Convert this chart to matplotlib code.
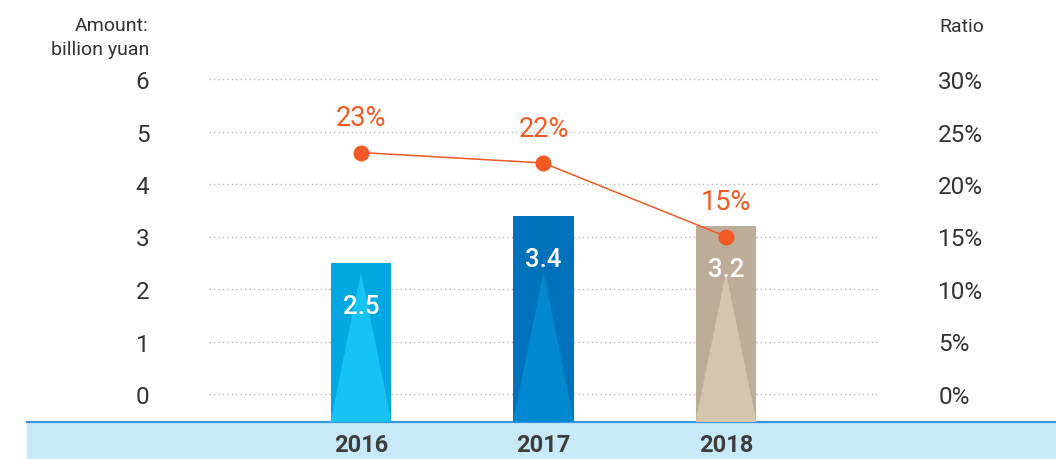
import matplotlib
matplotlib.use("Agg")
import matplotlib.pyplot as plt
from matplotlib.patches import Rectangle, Polygon
from matplotlib.lines import Line2D

plt.rcParams['font.family'] = ['Roboto', 'DejaVu Sans']

years = ["2016", "2017", "2018"]
amounts = [2.5, 3.4, 3.2]          # billion yuan
ratios = [23, 22, 15]              # %
amount_ticks = [0, 1, 2, 3, 4, 5, 6]
ratio_ticks = [0, 5, 10, 15, 20, 25, 30]

bar_colors = ["#00A8E2", "#0071BB", "#BDAC97"]
tri_colors = ["#15C3F4", "#0089D1", "#D5C5AF"]
line_color = "#F15A24"
text_color = "#333333"

W, H = 1056, 460
fig = plt.figure(figsize=(W / 100, H / 100), dpi=100)

# category band along the bottom
fig.patches.append(Rectangle((27 / W, 0), 1 - 27 / W, 37 / H,
                             transform=fig.transFigure, color="#C8E9F8",
                             zorder=-2))
fig.lines.append(Line2D([27 / W, 1], [37 / H, 37 / H], transform=fig.transFigure,
                        color="#3A98D8", lw=1.6, zorder=-1))

# plot area: baseline sits on top of the blue band
ax = fig.add_axes([209 / W, 37 / H, (880 - 209) / W, 423 / H])
ax.patch.set_visible(False)
ymin, ymax = -28 / 52.5, 395 / 52.5
ax.set_ylim(ymin, ymax)
ax.set_xlim(-0.833, 2.844)

for s in ax.spines.values():
    s.set_visible(False)

# dotted grid
for t in amount_ticks:
    ax.axhline(t, color="#B5B5B5", lw=1, ls=(0, (0.9, 2.3)), zorder=1)

x = list(range(len(years)))
bw = 0.334
ax.bar(x, [a - ymin for a in amounts], bottom=ymin, width=bw,
       color=bar_colors, zorder=2)

# lighter triangle inside each bar
apex = 2.32
for xi, c in zip(x, tri_colors):
    ax.add_patch(Polygon([(xi - bw / 2, ymin), (xi + bw / 2, ymin), (xi, apex)],
                         closed=True, color=c, lw=0, zorder=3))

for xi, a in zip(x, amounts):
    ax.annotate(f"{a}", (xi, a), xytext=(0, -31), textcoords="offset points",
                ha="center", va="center", color="white", fontsize=18.5,
                fontweight="medium", zorder=5)

ax.set_yticks(amount_ticks)
ax.set_yticklabels([str(t) for t in amount_ticks])
ax.tick_params(axis="y", length=0, pad=43, labelsize=17.5, labelcolor=text_color)
ax.set_xticks(x)
ax.set_xticklabels(years, fontweight="bold")
ax.tick_params(axis="x", length=0, pad=8, labelsize=17, labelcolor="#3D3D3D")

# ratio line on the right scale
ax2 = ax.twinx()
ax2.set_ylim(ymin * 5, ymax * 5)
for s in ax2.spines.values():
    s.set_visible(False)
ax2.plot(x, ratios, color=line_color, lw=1.1, marker="o", markersize=10.5,
         zorder=6)
for xi, r in zip(x, ratios):
    ax2.annotate(f"{r}%", (xi, r), xytext=(0, 25), textcoords="offset points",
                 ha="center", va="center", color=line_color, fontsize=19.5)
ax2.set_yticks(ratio_ticks)
ax2.set_yticklabels([f"{t}%" for t in ratio_ticks])
ax2.tick_params(axis="y", length=0, pad=42, labelsize=17.5, labelcolor=text_color)

# axis titles
fig.text(149 / W, 1 - 26 / H, "Amount:", ha="right", va="center",
         fontsize=14, color=text_color)
fig.text(149 / W, 1 - 50 / H, "billion yuan", ha="right", va="center",
         fontsize=14, color=text_color)
fig.text(939 / W, 1 - 27 / H, "Ratio", ha="left", va="center",
         fontsize=14, color=text_color)

fig.savefig("out.png", dpi=100)
